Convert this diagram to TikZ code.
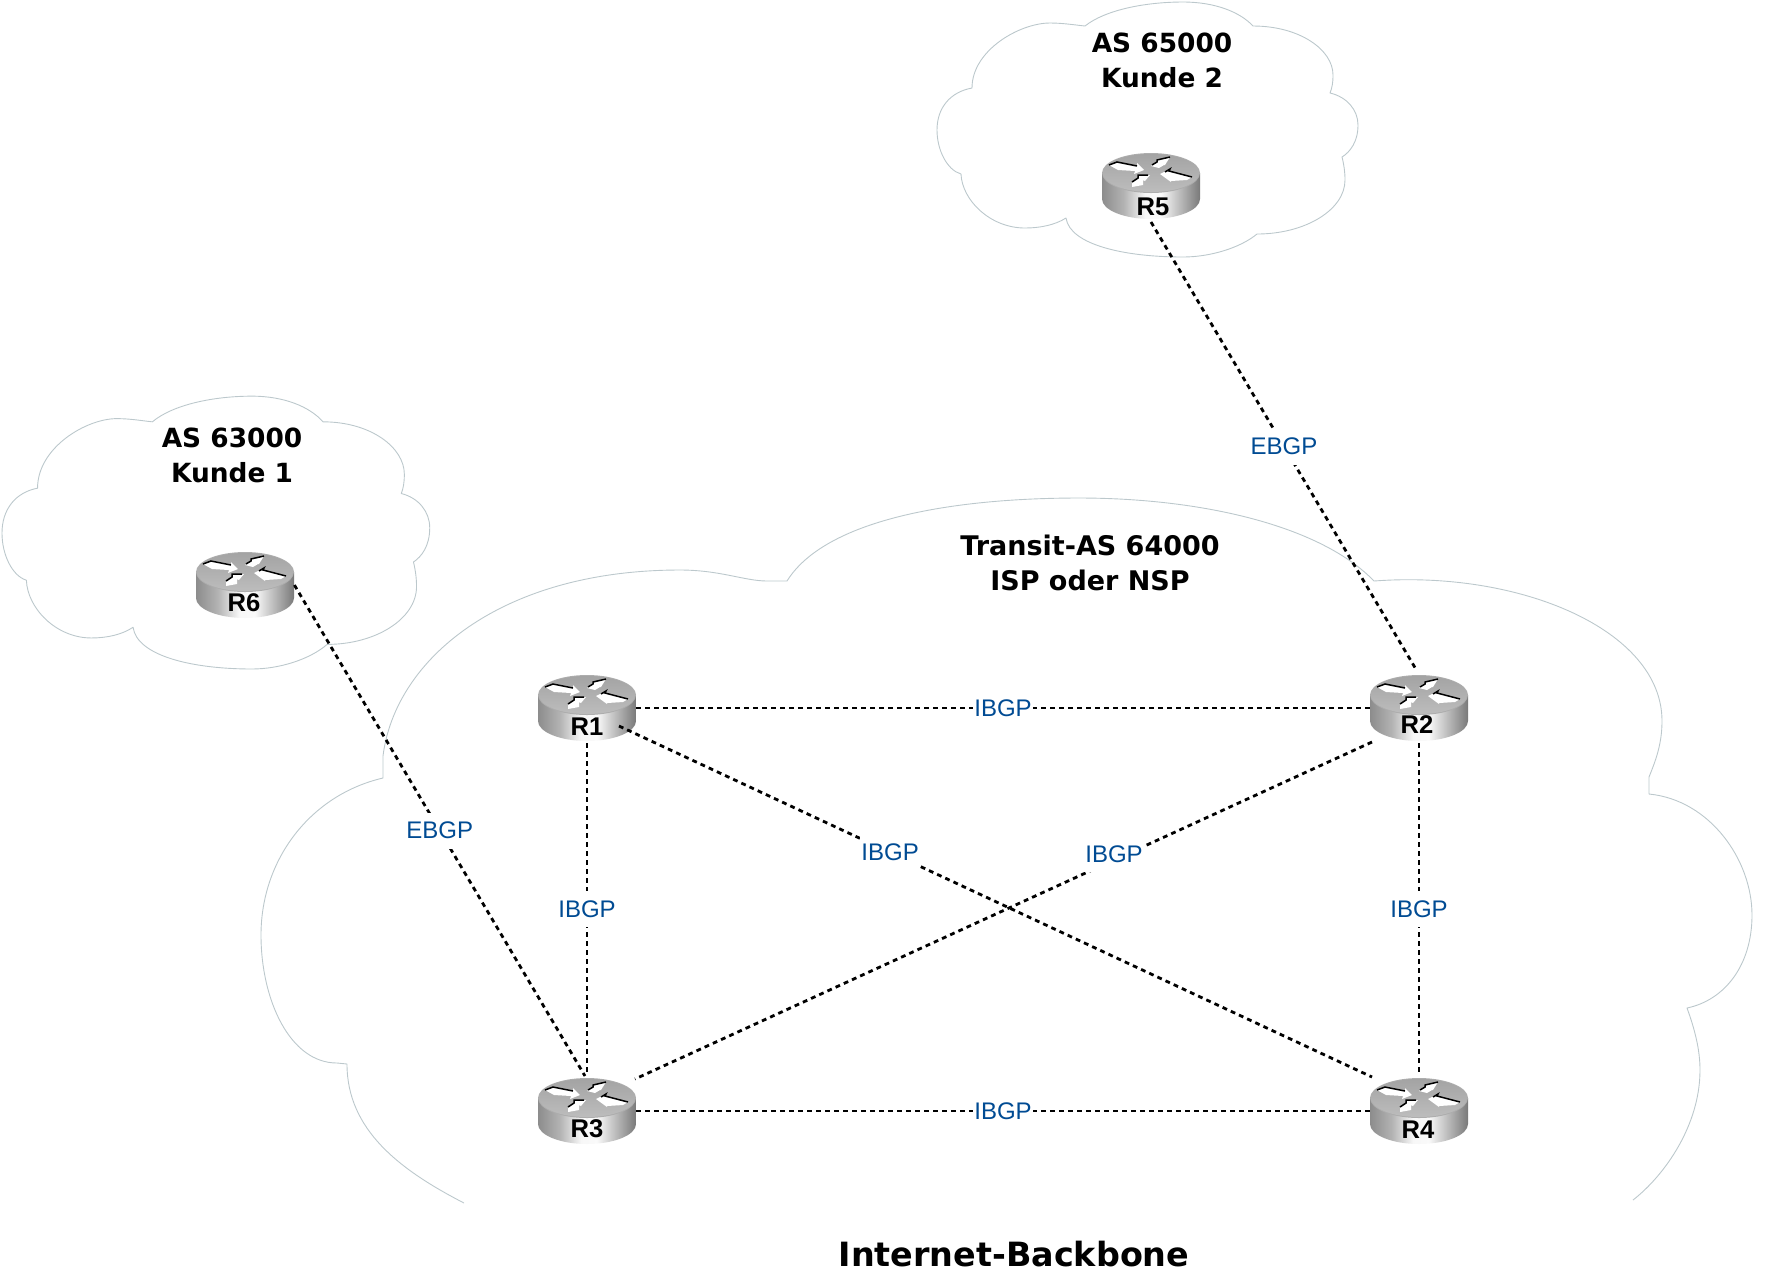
\documentclass[tikz,border=0pt]{standalone}
\usepackage{fontspec}
\setmainfont{Liberation Sans}
\newfontfamily\titlefont{DejaVu Sans}
\usetikzlibrary{calc}
\definecolor{cloudline}{HTML}{BCC8CC}
\definecolor{bgpblue}{HTML}{004B93}
\pgfdeclarehorizontalshading{routerbody}{100bp}{
 color(0bp)=(black!45);color(25bp)=(black!45);color(36bp)=(black!30);color(47bp)=(black!3);color(55bp)=(black!2);
 color(62bp)=(black!20);color(70bp)=(black!40);color(76bp)=(black!55);color(100bp)=(black!68)}
\tikzset{
 cloudedge/.style={draw=cloudline,line width=.45pt,line join=round},
 bgplink/.style={draw=black,line width=1.4pt,dash pattern=on 2.4pt off 2.1pt},
 bgplabel/.style={fill=white,text=bgpblue,font=\fontsize{12}{14}\selectfont,inner xsep=.8pt,inner ysep=0pt,minimum height=18pt},
 titletext/.style={font=\titlefont\bfseries\fontsize{13.2}{17.5}\selectfont,align=center,inner sep=0pt},
 rlabel/.style={font=\bfseries\fontsize{12.8}{14}\selectfont,text=black,inner sep=0pt},
 routerbox/.style={minimum width=49pt,minimum height=33pt,inner sep=0pt},
 toparrow/.style={fill=white,draw=none},
 arrowedge/.style={draw=black,line width=.75pt,line join=miter}
}
% cloud shared by the two customer ASes
\newcommand{\smallcloud}{%
 (1085,26) .. controls (1105,10) and (1145,2) .. (1183,2) .. controls (1215,2) and (1240,12) .. (1253,26)
 .. controls (1300,26) and (1333,50) .. (1333,75) .. controls (1333,83) and (1332,88) .. (1330,93)
 .. controls (1347,97) and (1358,110) .. (1358,125) .. controls (1358,142) and (1350,152) .. (1342,157)
 .. controls (1344,165) and (1345,172) .. (1345,180) .. controls (1345,210) and (1305,234) .. (1257,234)
 .. controls (1240,248) and (1210,257) .. (1183,257) .. controls (1125,257) and (1070,245) .. (1066,218)
 .. controls (1055,225) and (1040,228) .. (1025,228) .. controls (990,228) and (962,200) .. (961,174)
 .. controls (947,170) and (937,150) .. (937,130) .. controls (937,108) and (950,92) .. (972,88)
 .. controls (972,50) and (1020,23) .. (1050,23) .. controls (1063,23) and (1075,25) .. (1085,26) -- cycle
}
% #1 name, #2 cx, #3 cy (centre of the top face), #4 text, #5 text x, #6 text y
\newcommand{\routericon}[6]{%
 \begin{scope}[shift={(#2,#3)}]
  \shade[shading=routerbody] (-49,0) -- (-49,26) .. controls (-49,37) and (-27,46) .. (0,46)
     .. controls (27,46) and (49,37) .. (49,26) -- (49,0) -- cycle;
  \fill[black!32] (0,0) ellipse [x radius=49,y radius=20];
  \shade[top color=black!36,bottom color=black!26] (0,0) ellipse [x radius=48,y radius=19];
  \fill[toparrow] (-42,-8) -- (-34,-11) -- (-14,-7) -- (-14,-10) -- (-7,-3) -- (-17,1) -- (-16,-2) -- (-33,-3) -- cycle;
  \draw[arrowedge] (-42,-8) -- (-34,-11) -- (-14,-7);
  \fill[toparrow] (9,1) -- (19,-4) -- (18,-2) -- (41,4) -- (36,7) -- (20,8) -- (20,9) -- cycle;
  \draw[arrowedge] (14,-1) -- (19,-4) -- (18,-2) -- (41,4);
  \fill[toparrow] (0,-7) -- (6,-11) -- (6,-13) -- (19,-16) -- (14,-8) -- (13,-8) -- (8,-5) -- cycle;
  \draw[arrowedge] (1,-8) -- (6,-11) -- (6,-13) -- (19,-16);
  \fill[toparrow] (-19,14) -- (-19,9) -- (-13,5) -- (-13,2) -- (-1,2) -- (-6,8) -- (-8,7) -- (-8,12) -- cycle;
  \draw[arrowedge] (-19,9) -- (-13,5) -- (-13,2) -- (-3,2);
 \end{scope}
 \node[routerbox] (#1) at (#2,#3+13) {};
 \node[rlabel] (#1t) at (#5,#6) {#4};
}
\begin{document}
\begin{tikzpicture}[x=.5pt,y=-.5pt]
\useasboundingbox (0,0) rectangle (1778,1282);

% main cloud (open at the bottom)
\path[cloudedge]
 (464,1203) .. controls (400,1170) and (347,1130) .. (347,1064) -- (337,1063)
 .. controls (290,1063) and (261,1000) .. (261,935) .. controls (261,860) and (310,795) .. (383,778) -- (383,756)
 .. controls (395,660) and (500,570) .. (680,570) .. controls (720,570) and (745,581) .. (767,581) -- (787,581)
 .. controls (825,520) and (950,498) .. (1079,498) .. controls (1200,498) and (1320,525) .. (1374,581)
 .. controls (1520,570) and (1662,630) .. (1662,721) .. controls (1662,745) and (1655,762) .. (1649,777) -- (1649,794)
 .. controls (1710,800) and (1752,860) .. (1752,915) .. controls (1752,965) and (1725,1000) .. (1687,1008)
 .. controls (1695,1030) and (1700,1050) .. (1700,1070) .. controls (1700,1125) and (1665,1175) .. (1633,1200);

% customer clouds
\path[cloudedge] \smallcloud;
\begin{scope}[shift={(-950,394)},xscale=1.016,yscale=1.07]
 \path[cloudedge] \smallcloud;
\end{scope}

% routers
\routericon{r1}{587}{695}{R1}{587}{727}
\routericon{r2}{1419}{695}{R2}{1417}{725}
\routericon{r3}{587}{1098}{R3}{587}{1129}
\routericon{r4}{1419}{1098}{R4}{1418}{1130}
\routericon{r5}{1151}{173}{R5}{1153}{207}
\routericon{r6}{245}{572}{R6}{244}{603}

% connectors
\draw[bgplink] (r1.east) -- (r2.west) node[pos=.5,bgplabel] (l12) {IBGP};
\draw[bgplink] (r3.east) -- (r4.west) node[pos=.5,bgplabel] (l34) {IBGP};
\draw[bgplink] ([shift={(0,2)}]r1.south) -- ([shift={(0,-3)}]r3.north) node[pos=.5,bgplabel] (l13) {IBGP};
\draw[bgplink] ([shift={(0,2)}]r2.south) -- ([shift={(0,-3)}]r4.north) node[pos=.5,bgplabel] (l24) {IBGP};
\draw[bgplink] ([shift={(32,18)}]r1.center) -- ([shift={(-47,-34)}]r4.center) node[pos=.36,bgplabel] (l14) {IBGP};
\draw[bgplink] ([shift={(-47,34)}]r2.center) -- ([shift={(48,-32)}]r3.center) node[pos=.35,yshift=3pt,bgplabel] (l23) {IBGP};
\draw[bgplink] ([shift={(0,36)}]r5.center) -- ([shift={(-2,-37)}]r2.center) node[pos=.5,bgplabel] (l52) {EBGP};
\draw[bgplink] (r6.east) -- ([shift={(-2,-35)}]r3.center) node[pos=.5,bgplabel] (l63) {EBGP};

% titles
\node[titletext] (t5) at (1162,60) {AS 65000\\Kunde 2};
\node[titletext] (t6) at (232,455) {AS 63000\\Kunde 1};
\node[titletext,font=\titlefont\bfseries\fontsize{13.5}{17.5}\selectfont] (t4) at (1090,563) {Transit-AS 64000\\ISP oder NSP};
\node[titletext,font=\titlefont\bfseries\fontsize{16.7}{20}\selectfont] (t0) at (1014,1254) {Internet-Backbone};
\end{tikzpicture}
\end{document}
